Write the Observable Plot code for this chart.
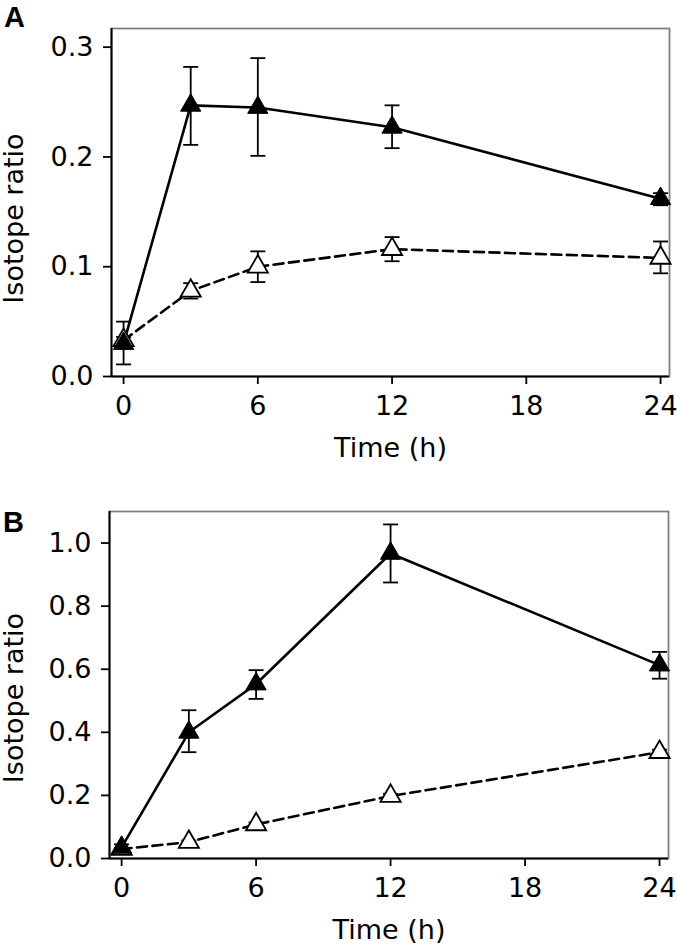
<!DOCTYPE html>
<html>
<head>
<meta charset="utf-8">
<script src="https://cdn.jsdelivr.net/npm/d3@7"></script>
<script src="https://cdn.jsdelivr.net/npm/@observablehq/plot@0.6"></script>
<style>
  html, body { margin: 0; padding: 0; background: white; }
  #chart svg { display: block; }
</style>
</head>
<body>
<div id="chart"></div>
<script>
// ---- data ----
const times = [0, 3, 6, 12, 24];
const xTicks = [0, 6, 12, 18, 24];

const aFilled   = [0.030, 0.247, 0.245, 0.227, 0.162];
const aFilledLo = [0.011, 0.211, 0.201, 0.208, 0.156];
const aFilledHi = [0.050, 0.282, 0.290, 0.247, 0.167];
const aOpen     = [0.033, 0.078, 0.100, 0.116, 0.108];
const aOpenLo   = [0.030, 0.071, 0.086, 0.105, 0.094];
const aOpenHi   = [0.036, 0.085, 0.114, 0.127, 0.123];
const aYTicks   = [0.0, 0.1, 0.2, 0.3];

const bFilled   = [0.035, 0.400, 0.553, 0.967, 0.613];
const bFilledLo = [0.025, 0.337, 0.506, 0.875, 0.570];
const bFilledHi = [0.045, 0.470, 0.597, 1.059, 0.655];
const bOpen     = [0.030, 0.052, 0.108, 0.198, 0.337];
const bOpenLo   = [0.027, 0.047, 0.102, 0.191, 0.329];
const bOpenHi   = [0.033, 0.057, 0.114, 0.205, 0.345];
const bYTicks   = [0.0, 0.2, 0.4, 0.6, 0.8, 1.0];

const xLabel = "Time (h)";
const yLabel = "Isotope ratio";

// horizontal cap symbol for error bars
const capSymbol = {
  draw(context, size) {
    const r = Math.sqrt(size / Math.PI);
    context.moveTo(-r, 0);
    context.lineTo(r, 0);
  }
};

function rows(vals, lo, hi) {
  return times.map((t, i) => ({t, v: vals[i], lo: lo[i], hi: hi[i]}));
}

const FONT = "'DejaVu Sans', Verdana, sans-serif";

function panel({letter, filled, open, yDomain, yTicks, margins, letterDx, letterDy, ylabDx, ylabDy}) {
  const xDomain = [-0.54, 24.4];
  const errMarks = (data) => [
    Plot.ruleX(data, {x: "t", y1: "lo", y2: "hi", stroke: "black", strokeWidth: 1.8}),
    Plot.dot(data, {x: "t", y: "lo", symbol: capSymbol, r: 7.5, stroke: "black", strokeWidth: 1.8}),
    Plot.dot(data, {x: "t", y: "hi", symbol: capSymbol, r: 7.5, stroke: "black", strokeWidth: 1.8})
  ];
  return Plot.plot({
    width: 677,
    height: 475,
    marginTop: margins[0],
    marginRight: margins[1],
    marginBottom: margins[2],
    marginLeft: margins[3],
    style: {fontFamily: FONT, fontSize: "27px", background: "white", color: "black", overflow: "visible"},
    x: {domain: xDomain},
    y: {domain: yDomain},
    marks: [
      Plot.frame({stroke: "#808080", strokeWidth: 1.8}),
      Plot.ruleX([xDomain[0]], {stroke: "black", strokeWidth: 2}),
      Plot.ruleY([yDomain[0]], {stroke: "black", strokeWidth: 2}),
      Plot.axisX({ticks: xTicks, tickSize: 8, tickPadding: 11, strokeWidth: 1.8, label: null, fontSize: 27}),
      Plot.axisY({ticks: yTicks, tickFormat: d3.format(".1f"), tickSize: 8, tickPadding: 10, strokeWidth: 1.8, label: null, fontSize: 27}),
      Plot.text([xLabel], {frameAnchor: "bottom", textAnchor: "middle", lineAnchor: "middle", dy: 72, fontSize: 27}),
      Plot.text([yLabel], {frameAnchor: "left", textAnchor: "middle", lineAnchor: "middle", dx: ylabDx, dy: ylabDy, rotate: -90, fontSize: 27}),
      Plot.text([letter], {frameAnchor: "top-left", textAnchor: "middle", lineAnchor: "middle", dx: letterDx, dy: letterDy, fontSize: 29, fontWeight: "bold", fontFamily: "'Liberation Sans', Arial, sans-serif"}),
      Plot.line(open, {x: "t", y: "v", stroke: "black", strokeWidth: 2.6, strokeDasharray: "10,5.5"}),
      Plot.line(filled, {x: "t", y: "v", stroke: "black", strokeWidth: 2.6}),
      ...errMarks(open),
      ...errMarks(filled),
      Plot.dot(open, {x: "t", y: "v", symbol: "triangle", r: 7.5, fill: "white", stroke: "black", strokeWidth: 1.8}),
      Plot.dot(filled, {x: "t", y: "v", symbol: "triangle", r: 7.5, fill: "black", stroke: "black", strokeWidth: 1})
    ]
  });
}

const chart = document.getElementById("chart");
chart.append(panel({
  letter: "A",
  filled: rows(aFilled, aFilledLo, aFilledHi),
  open: rows(aOpen, aOpenLo, aOpenHi),
  yDomain: [0, 0.317],
  yTicks: aYTicks,
  margins: [28, 8, 99, 111],
  letterDx: -97, letterDy: -11, ylabDx: -97, ylabDy: 16
}));
chart.append(panel({
  letter: "B",
  filled: rows(bFilled, bFilledLo, bFilledHi),
  open: rows(bOpen, bOpenLo, bOpenHi),
  yDomain: [0, 1.10],
  yTicks: bYTicks,
  margins: [36, 9, 92, 109],
  letterDx: -96, letterDy: 11.5, ylabDx: -95, ylabDy: 13
}));
</script>
</body>
</html>
